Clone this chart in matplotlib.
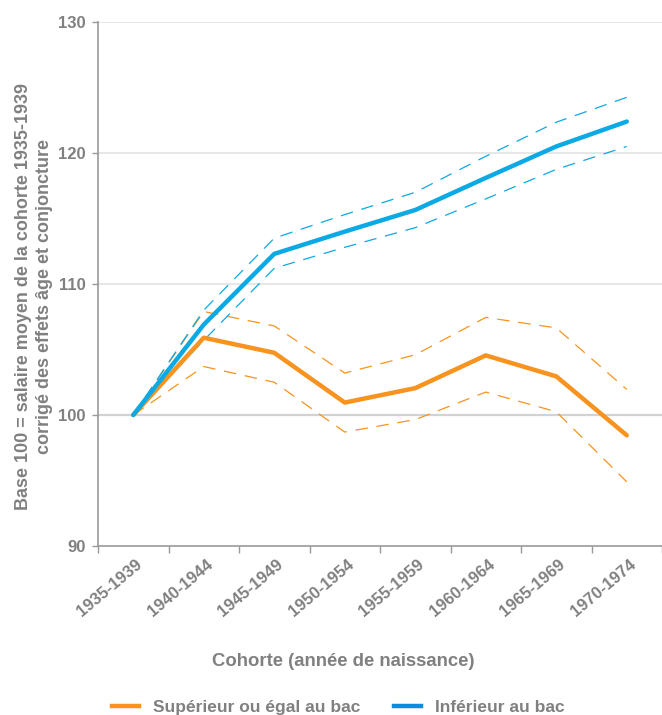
import numpy as np
import matplotlib
matplotlib.use("Agg")
import matplotlib.pyplot as plt
from matplotlib.lines import Line2D

# Données : salaire moyen par cohorte, base 100 = cohorte 1935-1939
cohortes = ["1935-1939", "1940-1944", "1945-1949", "1950-1954",
            "1955-1959", "1960-1964", "1965-1969", "1970-1974"]

sup_bac = [100.0, 105.9, 104.75, 100.95, 102.05, 104.55, 102.95, 98.45]
sup_bac_haut = [100.0, 107.9, 106.8, 103.2, 104.6, 107.45, 106.65, 101.95]
sup_bac_bas = [100.0, 103.7, 102.5, 98.7, 99.65, 101.75, 100.25, 94.9]

inf_bac = [100.0, 106.9, 112.3, 114.0, 115.65, 118.1, 120.5, 122.4]
inf_bac_haut = [100.0, 108.0, 113.5, 115.3, 117.0, 119.75, 122.35, 124.25]
inf_bac_bas = [100.0, 105.7, 111.2, 112.8, 114.3, 116.5, 118.75, 120.5]

ORANGE = "#F7931E"
BLEU = "#0BAAE5"
BLEU_LEG = "#0A8FD6"
GRIS = "#808080"

plt.rcParams["font.family"] = ["Liberation Sans", "DejaVu Sans"]

fig = plt.figure(figsize=(6.62, 7.15), dpi=100)
ax = fig.add_axes([98 / 662, 1 - 546 / 715, 1 - 98 / 662, (546 - 22) / 715])

x = np.arange(len(cohortes))

# intervalles de confiance en pointillés
tirets = (0, (10, 7))
ax.plot(x, sup_bac_haut, color=ORANGE, lw=0.9, ls=tirets)
ax.plot(x, sup_bac_bas, color=ORANGE, lw=0.9, ls=tirets)
ax.plot(x, inf_bac_haut, color=BLEU, lw=0.9, ls=tirets)
ax.plot(x, inf_bac_bas, color=BLEU, lw=0.9, ls=tirets)

ax.plot(x, sup_bac, color=ORANGE, lw=3.2, solid_capstyle="round", zorder=3)
ax.plot(x, inf_bac, color=BLEU, lw=3.2, solid_capstyle="round", zorder=4)

ax.set_ylim(90, 130)
ax.set_xlim(-0.5, len(cohortes) - 0.5)
ax.set_yticks([90, 100, 110, 120, 130])

for v in [110, 120, 130]:
    ax.axhline(v, color="#e3e3e3", lw=1.2, zorder=0)
ax.axhline(100, color="#d2d2d2", lw=1.6, zorder=0)

# étiquettes inclinées, légèrement décalées à droite du centre de la catégorie
ax.set_xticks(x + 0.1)
ax.set_xticklabels(cohortes, rotation=40, ha="right", va="center", rotation_mode="anchor",
                   fontsize=12, fontweight="bold", color=GRIS)
ax.set_xticks(np.arange(len(cohortes) + 1) - 0.5, minor=True)
ax.tick_params(axis="x", which="major", length=0, pad=12)
ax.tick_params(axis="x", which="minor", length=5, color="#999999", width=1)
ax.tick_params(axis="y", length=4, color="#999999", width=1, pad=5,
               labelsize=12, labelcolor=GRIS)
for lab in ax.get_yticklabels():
    lab.set_fontweight("bold")

for s in ["top", "right"]:
    ax.spines[s].set_visible(False)
for s in ["left", "bottom"]:
    ax.spines[s].set_color("#999999")
    ax.spines[s].set_linewidth(1.2)

ax.set_ylabel("Base 100 = salaire moyen de la cohorte 1935-1939\ncorrigé des effets âge et conjoncture",
              fontsize=13, fontweight="bold", color=GRIS, linespacing=1.3)
ax.yaxis.set_label_coords(-0.080, 0.477)

fig.text(343 / 662, 1 - 662 / 715, "Cohorte (année de naissance)", ha="center", va="center",
         fontsize=13.3, fontweight="bold", color=GRIS)

handles = [Line2D([], [], color=ORANGE, lw=3.2), Line2D([], [], color=BLEU_LEG, lw=3.2)]
leg = fig.legend(handles, ["Supérieur ou égal au bac", "Inférieur au bac"],
                 loc="center left", bbox_to_anchor=(96 / 662, 1 - 707 / 715), ncol=2,
                 frameon=False, handlelength=1.6, handletextpad=0.8, columnspacing=1.9,
                 prop={"size": 12.5, "weight": "bold"})
for t in leg.get_texts():
    t.set_color(GRIS)

fig.savefig("out.png", dpi=100)
